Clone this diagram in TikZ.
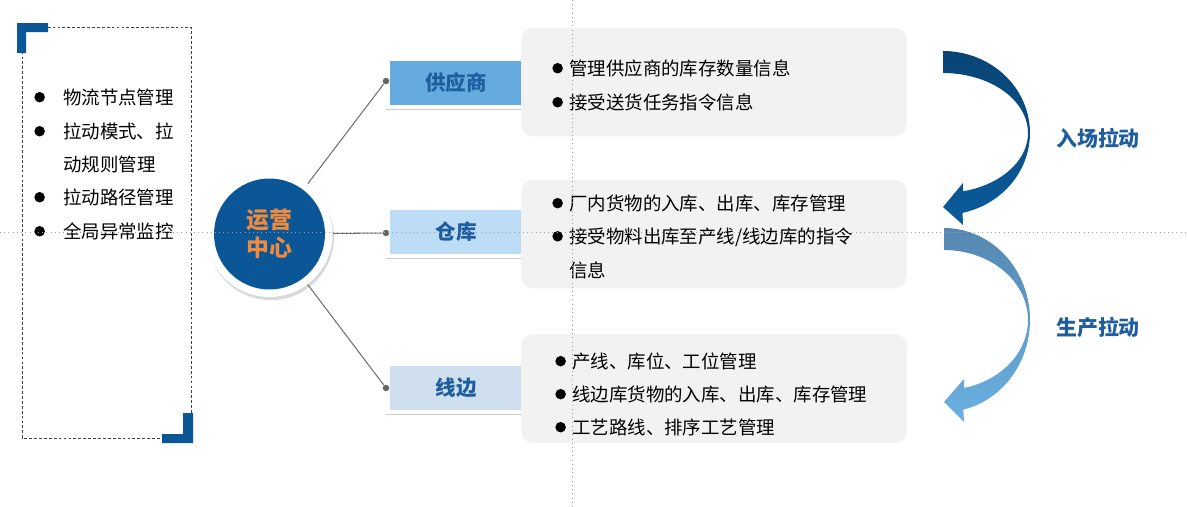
\documentclass[tikz,border=0pt]{standalone}
\usepackage{fontspec}
\setmainfont{Noto Sans CJK SC}
\usetikzlibrary{shadows}
\definecolor{hubBlue}{HTML}{0B5697}
\definecolor{hubOrange}{HTML}{F08A3C}
\definecolor{tagText}{HTML}{1F5E9E}
\definecolor{supFill}{HTML}{66ABDF}
\definecolor{whFill}{HTML}{BDDDF7}
\definecolor{lineFill}{HTML}{CFDFF0}
\definecolor{panelGray}{HTML}{F2F2F2}
\definecolor{linkGray}{HTML}{707070}
\definecolor{guideGray}{HTML}{A0A0A0}
\definecolor{pullDarkA}{HTML}{094476}
\definecolor{pullDarkB}{HTML}{0A5B9D}
\definecolor{pullLightA}{HTML}{5587B1}
\definecolor{pullLightB}{HTML}{6AB1E2}
\newcommand\itemdot[1][3.6pt]{\tikz[baseline=-0.37em]\fill (0,0) circle (3pt);\hspace{#1}}
\tikzset{
  item/.style={anchor=west, inner sep=0pt, font=\fontsize{10.5pt}{12pt}\selectfont},
  tag/.style={draw=white, line width=2.27pt, minimum width=2.72cm, minimum height=0.96cm,
    inner sep=0pt, text=tagText, font=\bfseries\fontsize{11.7pt}{14pt}\selectfont,
    drop shadow={shadow xshift=-1.2pt, shadow yshift=-1.8pt, opacity=.4}},
  panel/.style={fill=panelGray, rounded corners=7pt, minimum width=7.72cm,
    minimum height=2.18cm, inner sep=0pt},
  dot/.style={circle, fill=linkGray!90!black, inner sep=0pt, minimum size=0.13cm},
  link/.style={draw=linkGray, line width=0.6pt},
  pullLabel/.style={text=tagText, font=\bfseries\fontsize{11.9pt}{14pt}\selectfont}
}
\begin{document}
\begin{tikzpicture}[x=0.02cm, y=-0.02cm]
  \useasboundingbox (0,0) rectangle (1188,507);
  \draw[black!75, line width=0.5pt, dash pattern=on 1.6pt off 1.2pt] (22,27) rectangle (191,438);
  \fill[hubBlue] (17,23) -- (48,23) -- (48,32) -- (26,32) -- (26,53) -- (17,53) -- cycle;
  \fill[hubBlue] (193,443) -- (162,443) -- (162,434) -- (183,434) -- (183,413) -- (193,413) -- cycle;
  \node[item] (pull1) at (34,97) {\itemdot[10.4pt]物流节点管理};
  \node[item] (pull2) at (34,131) {\itemdot[10.4pt]拉动模式、拉};
  \node[item] (pull3) at (63,164) {动规则管理};
  \node[item] (pull4) at (34,197) {\itemdot[10.4pt]拉动路径管理};
  \node[item] (pull5) at (34,231) {\itemdot[10.4pt]全局异常监控};

  \node[circle, fill=white, minimum size=2.52cm, inner sep=0pt,
    drop shadow={shadow xshift=0.8pt, shadow yshift=-1.8pt, opacity=.3}] (hub) at (269.5,234) {};
  \node[circle, fill=hubBlue, minimum size=2.22cm, inner sep=0pt, align=center,
    text=hubOrange, font=\bfseries\fontsize{13pt}{15.9pt}\selectfont] (hubCore) at (hub) {运营\\中心};

  \node[tag, fill=supFill] (sup) at (456,83) {供应商};
  \node[tag, fill=whFill] (wh) at (456,232) {仓库};
  \node[tag, fill=lineFill] (line) at (456,388) {线边};
  \node[dot] (supDot) at (386,81) {};
  \node[dot] (whDot) at (386,233) {};
  \node[dot] (lineDot) at (386,388) {};
  \begin{scope}[link]
    \draw (hub) -- (supDot);
    \draw (hub) -- (whDot);
    \draw (hub) -- (lineDot);
  \end{scope}

  \node[panel] (supPanel) at (714,82) {};
  \node[panel] (whPanel) at (714,234) {};
  \node[panel] (linePanel) at (714,388.5) {};
  \node[item] (sup1) at (552,68) {\itemdot 管理供应商的库存数量信息};
  \node[item] (sup2) at (552,102) {\itemdot 接受送货任务指令信息};
  \node[item] (wh1) at (552,203) {\itemdot 厂内货物的入库、出库、库存管理};
  \node[item] (wh2) at (552,237) {\itemdot 接受物料出库至产线/线边库的指令};
  \node[item] (wh3) at (569,270) {信息};
  \node[item] (line1) at (555,361) {\itemdot 产线、库位、工位管理};
  \node[item] (line2) at (555,394) {\itemdot 线边库货物的入库、出库、库存管理};
  \node[item] (line3) at (555,427) {\itemdot 工艺路线、排序工艺管理};

  \path[top color=pullDarkA, bottom color=pullDarkB, middle color=pullDarkA!50!pullDarkB]
    plot[domain=-90:77, samples=40] ({943+87*cos(\x)},{133+82*sin(\x)})
    -- (963,225) -- (943,207) -- (963,183)
    -- plot[domain=76.4:-90, samples=40] ({943+85*cos(\x)},{133+60*sin(\x)}) -- cycle;
  \path[top color=pullLightA, bottom color=pullLightB, middle color=pullLightA!50!pullLightB]
    plot[domain=-90:77, samples=40] ({944+86*cos(\x)},{320+92*sin(\x)})
    -- (964,422) -- (944,402) -- (964,379)
    -- plot[domain=76.2:-90, samples=40] ({944+84*cos(\x)},{320+70*sin(\x)}) -- cycle;
  \node[pullLabel] (inPull) at (1098,138) {入场拉动};
  \node[pullLabel] (prodPull) at (1098,328) {生产拉动};

  \draw[guideGray, line width=0.4pt, dotted] (0,232) -- (1188,232);
  \draw[guideGray, line width=0.4pt, dotted] (572,0) -- (572,507);
\end{tikzpicture}
\end{document}
